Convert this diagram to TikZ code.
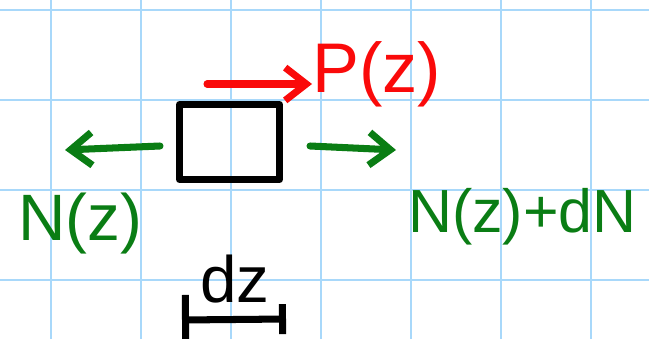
\documentclass[tikz,border=0pt]{standalone}
\usepackage{fontspec}
\setmainfont{Liberation Sans}
\usetikzlibrary{arrows.meta,positioning}
\definecolor{gridblue}{RGB}{168,216,250}
\definecolor{penred}{RGB}{250,10,10}
\definecolor{pengreen}{RGB}{10,125,20}
\newcommand{\pensize}[1]{\fontsize{#1}{#1}\selectfont}

\begin{document}
\begin{tikzpicture}[x=0.03cm,y=-0.03cm,line cap=round,line join=round]
\tikzset{pen/.style={line width=6pt},
  hand/.style={pen,-{Straight Barb[length=18pt,width=28pt,line width=6pt]}},
  lbl/.style={inner sep=0pt,anchor=base west}}
\useasboundingbox (0,0) rectangle (649,339);
% squared paper
\foreach \gx in {51,141,...,591} \draw[gridblue,line width=2pt] (\gx,0)--(\gx,339);
\foreach \gy in {10,100,...,280} \draw[gridblue,line width=2pt] (0,\gy)--(649,\gy);
% element
\node[draw,pen,minimum width=3.0cm,minimum height=2.25cm] (elem) at (229.5,142) {};
\node[lbl,penred,font=\pensize{60}] (pz) at (312,92) {P(z)};
\node[lbl,pengreen,font=\pensize{56}] (nl) at (18,240) {N(z)};
\node[lbl,pengreen,font=\pensize{52}] (nr) at (408,232) {N(z)+dN};
\node[lbl,font=\pensize{56}] (dz) at (200,302) {dz};
\coordinate (rs) at (207,84);
\coordinate (ls) at (160,146);
\coordinate (lt) at (65,150);
\coordinate (gs) at (310,146);
\coordinate (gt) at (396,150);
\coordinate (dl) at (182,320);
\coordinate (dr) at (286,319);
\draw[hand,penred] (rs)--(pz.west |- rs);
\draw[hand,pengreen] (ls)--(lt);
\draw[hand,pengreen] (gs)--(gt);
\draw[pen,{Bar[width=1.5cm,line width=6pt]}-{Bar[width=0.9cm,line width=6pt]}] (dl)--(dr);
\end{tikzpicture}
\end{document}
